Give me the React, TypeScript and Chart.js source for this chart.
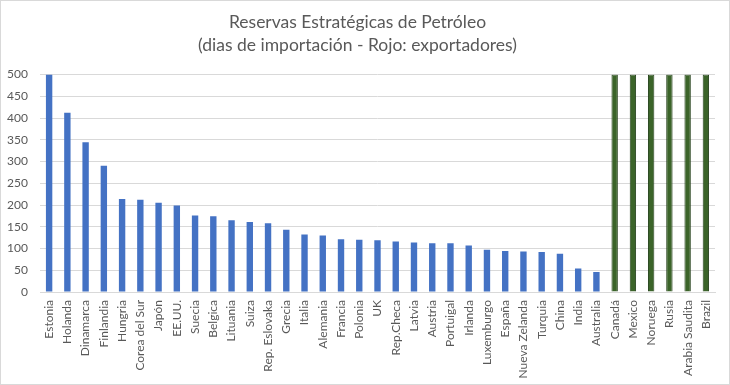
import React, { useEffect, useRef } from "react";
import { Chart, registerables } from "chart.js";

Chart.register(...registerables);

const categories = [
  "Estonia", "Holanda", "Dinamarca", "Finlandia", "Hungria", "Corea del Sur", "Japón", "EE.UU.",
  "Suecia", "Belgica", "Lituania", "Suiza", "Rep. Eslovaka", "Grecia", "Italia", "Alemania",
  "Francia", "Polonia", "UK", "Rep.Checa", "Latvia", "Austria", "Portuigal", "Irlanda",
  "Luxemburgo", "España", "Nueva Zelanda", "Turquia", "China", "India", "Australia",
  "Canadá", "Mexico", "Noruega", "Rusia", "Arabia Saudita", "Brazil",
];

const values = [
  500, 412, 344, 290, 214, 212, 205, 199,
  176, 174, 165, 161, 158, 143, 132, 130,
  121, 120, 119, 116, 114, 112, 112, 107,
  97, 94, 93, 92, 88, 54, 46,
  500, 500, 500, 500, 500, 500,
];

const exporters = [
  "Canadá", "Mexico", "Noruega", "Rusia", "Arabia Saudita", "Brazil",
];

const yTicks = [0, 50, 100, 150, 200, 250, 300, 350, 400, 450, 500];

const titleLines = [
  "Reservas Estratégicas de Petróleo",
  "(dias de importación - Rojo: exportadores)",
];

const FONT = "Lato, 'Open Sans', sans-serif";

const borderPlugin = {
  id: "chartBorder",
  afterDraw(chart: any) {
    const ctx = chart.ctx;
    ctx.save();
    ctx.strokeStyle = "#d9d9d9";
    ctx.lineWidth = 1;
    ctx.strokeRect(0.5, 0.5, chart.width - 1, chart.height - 1);
    ctx.restore();
  },
};

export default function App() {
  const ref = useRef<HTMLCanvasElement>(null);

  useEffect(() => {
    if (!ref.current) return;
    const isExp = categories.map((c) => exporters.includes(c));
    const chart = new Chart(ref.current, {
      type: "bar",
      data: {
        labels: categories,
        datasets: [
          {
            data: values,
            backgroundColor: isExp.map((e) => (e ? "#3b6429" : "#4472C4")),
            borderColor: isExp.map((e) => (e ? "#24401a" : "#4472C4")),
            borderWidth: isExp.map((e) => (e ? 1 : 0)),
            barPercentage: 0.35,
            categoryPercentage: 1,
          },
        ],
      },
      options: {
        animation: false,
        responsive: false,
        maintainAspectRatio: false,
        layout: { padding: { left: 0, right: 15, top: 11, bottom: 4 } },
        plugins: {
          legend: { display: false },
          tooltip: { enabled: false },
          title: {
            display: true,
            text: titleLines,
            color: "#595959",
            font: { family: FONT, size: 17.5, weight: "normal" as any, lineHeight: 1.3 },
            padding: { top: 0, bottom: 18 },
          },
        },
        scales: {
          x: {
            grid: { display: false, drawTicks: false },
            border: { display: true, color: "#d9d9d9" },
            afterFit: (axis: any) => {
              axis.height = 89;
            },
            ticks: {
              color: "#595959",
              font: { family: FONT, size: 12 },
              maxRotation: 90,
              minRotation: 90,
              autoSkip: false,
              padding: 8,
            },
          },
          y: {
            min: 0,
            max: 500,
            afterBuildTicks: (axis: any) => {
              axis.ticks = yTicks.map((v) => ({ value: v }));
            },
            afterFit: (axis: any) => {
              axis.width = 40;
            },
            grid: { color: "#d9d9d9", drawTicks: false },
            border: { display: false },
            ticks: {
              color: "#595959",
              font: { family: FONT, size: 12 },
              padding: 12,
            },
          },
        },
      },
      plugins: [borderPlugin],
    });
    return () => chart.destroy();
  }, []);

  return (
    <div style={{ position: "absolute", left: 0, top: 0, width: 730, height: 385, background: "#fff" }}>
      <canvas ref={ref} width={730} height={385} style={{ display: "block" }} />
    </div>
  );
}
